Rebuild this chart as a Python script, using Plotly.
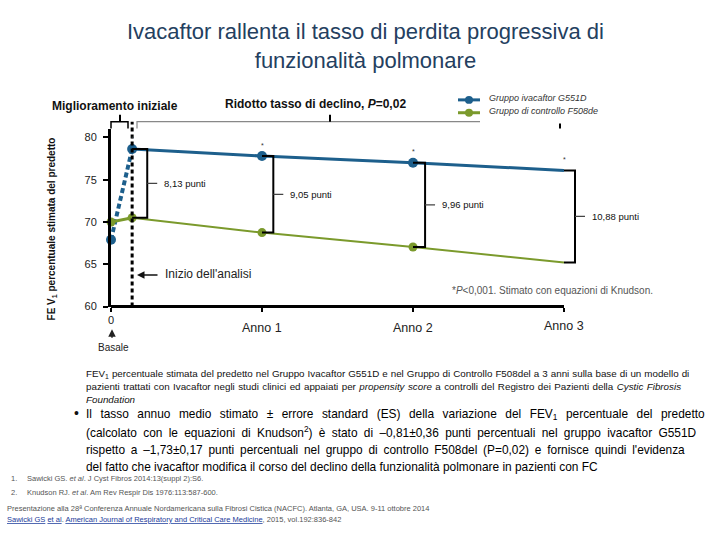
import plotly.graph_objects as go

# ---------------- data ----------------
time_points = [0, 0.14, 1, 2, 3]
ivacaftor = [67.9, 78.63, 77.8, 77.0, 76.1]
controllo = [70.0, 70.5, 68.75, 67.04, 65.22]
diff_labels = ["8,13 punti", "9,05 punti", "9,96 punti", "10,88 punti"]
x_tick_vals = [0, 1, 2, 3]
x_tick_text = ["0", "Anno 1", "Anno 2", "Anno 3"]
y_tick_vals = [60, 65, 70, 75, 80]
series_names = ["Gruppo ivacaftor G551D", "Gruppo di controllo F508de"]

BLUE = "#1d5f8c"
GREEN = "#7b9a2c"
TITLE_C = "#24405f"
W, H = 720, 540
FONT = "Liberation Sans, Arial, sans-serif"


def PX(x):
    return x / W


def PY(y):
    return 1 - y / H


X0_PX, YEAR_PX = 111, 151
X_MAX = 3.6
Y_BOT_PX, Y_TOP_PX = 310, 130
PX_PER_UNIT = 8.55

fig = go.Figure()
# initial improvement segment
fig.add_trace(go.Scatter(x=time_points[:2], y=ivacaftor[:2], mode="lines",
                         line=dict(color=BLUE, width=4, dash="5px,3px"),
                         cliponaxis=False, showlegend=False, hoverinfo="skip"))
fig.add_trace(go.Scatter(x=time_points[:2], y=controllo[:2], mode="lines",
                         line=dict(color=GREEN, width=3),
                         cliponaxis=False, showlegend=False, hoverinfo="skip"))
# decline segments
fig.add_trace(go.Scatter(x=time_points[1:], y=ivacaftor[1:], mode="lines",
                         line=dict(color=BLUE, width=3),
                         cliponaxis=False, showlegend=False))
fig.add_trace(go.Scatter(x=time_points[1:], y=controllo[1:], mode="lines",
                         line=dict(color=GREEN, width=2),
                         cliponaxis=False, showlegend=False))
# markers
fig.add_trace(go.Scatter(x=time_points[:4], y=controllo[:4], mode="markers",
                         marker=dict(color=GREEN, size=9),
                         cliponaxis=False, showlegend=False))
fig.add_trace(go.Scatter(x=time_points[:4], y=ivacaftor[:4], mode="markers",
                         marker=dict(color=BLUE, size=10),
                         cliponaxis=False, showlegend=False))

shapes = []
annotations = []

# x axis line
shapes.append(dict(type="line", xref="x", yref="paper", x0=0, x1=3,
                   y0=PY(Y_BOT_PX), y1=PY(Y_BOT_PX), line=dict(color="black", width=3)))
# dotted vertical line at start of analysis
shapes.append(dict(type="line", xref="x", yref="paper", x0=time_points[1], x1=time_points[1],
                   y0=PY(Y_BOT_PX), y1=PY(123), line=dict(color="black", width=3, dash="4px,3px")))

# brackets between the groups
offsets = [0.1, 0.075, 0.08, 0.073]
for i, idx in enumerate([1, 2, 3, 4]):
    t = time_points[idx]
    tb = t + offsets[i]
    top, bot = ivacaftor[idx], controllo[idx]
    mid = (top + bot) / 2
    shapes.append(dict(type="path", xref="x", yref="y",
                       path=f"M {t},{top} L {tb},{top} L {tb},{bot} L {t},{bot}",
                       line=dict(color="black", width=2)))
    shapes.append(dict(type="line", xref="x", yref="y", x0=tb, x1=tb + 0.066, y0=mid, y1=mid,
                       line=dict(color="#444", width=1.2)))
    annotations.append(dict(x=tb, y=mid, xref="x", yref="y", text=diff_labels[i],
                            showarrow=False, xanchor="left", yanchor="middle", xshift=15,
                            font=dict(family=FONT, size=9.5, color="#111")))
    annotations.append(dict(x=t, y=top, xref="x", yref="y", text="*", showarrow=False,
                            yshift=11, font=dict(family=FONT, size=7, color="#333")))

# top brackets
shapes += [
    dict(type="path", xref="paper", yref="paper",
         path=f"M {PX(111)},{PY(130)} L {PX(111)},{PY(123)} L {PX(128)},{PY(123)} L {PX(128)},{PY(130)}",
         line=dict(color="black", width=1.5)),
    dict(type="line", xref="paper", yref="paper", x0=PX(120), x1=PX(120), y0=PY(123), y1=PY(116),
         line=dict(color="black", width=2)),
    dict(type="path", xref="paper", yref="paper",
         path=f"M {PX(137)},{PY(130)} L {PX(137)},{PY(123)} L {PX(480)},{PY(123)}",
         line=dict(color="#888", width=1.2)),
    dict(type="line", xref="paper", yref="paper", x0=PX(330), x1=PX(330), y0=PY(123), y1=PY(116),
         line=dict(color="black", width=2)),
    dict(type="line", xref="paper", yref="paper", x0=PX(560), x1=PX(560), y0=PY(125), y1=PY(130),
         line=dict(color="black", width=2)),
]

# legend (manual)
for i, (col, yy) in enumerate([(BLUE, 101), (GREEN, 114)]):
    shapes.append(dict(type="line", xref="paper", yref="paper", x0=PX(458), x1=PX(480),
                       y0=PY(yy), y1=PY(yy), line=dict(color=col, width=3)))
    shapes.append(dict(type="circle", xref="paper", yref="paper", x0=PX(465), x1=PX(473),
                       y0=PY(yy + 4), y1=PY(yy - 4), fillcolor=col, line=dict(color=col, width=0)))
    annotations.append(dict(x=PX(487), y=PY(yy - 2), xref="paper", yref="paper",
                            text=f"<i>{series_names[i]}</i>", showarrow=False,
                            xanchor="left", yanchor="middle",
                            font=dict(family=FONT, size=9, color="#333")))

# x tick labels
label_y = {0: 324, 1: 332, 2: 332, 3: 329.5}
for v, txt in zip(x_tick_vals, x_tick_text):
    annotations.append(dict(x=v, y=PY(label_y[v]), xref="x", yref="paper",
                            text=txt, showarrow=False, xanchor="center", yanchor="middle",
                            font=dict(family=FONT, size=11 if v == 0 else 12.5, color="#222")))

# basale arrow + label
annotations.append(dict(x=PX(112), y=PY(333), xref="paper", yref="paper", ax=0, ay=10, text="",
                        showarrow=True, arrowhead=2, arrowsize=1, arrowwidth=1.5, arrowcolor="#222"))
annotations.append(dict(x=PX(113), y=PY(351), xref="paper", yref="paper", text="Basale",
                        showarrow=False, xanchor="center", yanchor="middle",
                        font=dict(family=FONT, size=10, color="#222")))

# inizio dell'analisi
annotations.append(dict(x=PX(137), y=PY(278), xref="paper", yref="paper", ax=22, ay=0, text="",
                        showarrow=True, arrowhead=2, arrowsize=1, arrowwidth=1.5, arrowcolor="#111"))
annotations.append(dict(x=PX(163), y=PY(277), xref="paper", yref="paper", text="Inizio dell'analisi",
                        showarrow=False, xanchor="left", yanchor="middle",
                        font=dict(family=FONT, size=12, color="#222")))

# footnote
annotations.append(dict(x=PX(450), y=PY(294), xref="paper", yref="paper",
                        text="*<i>P</i>&lt;0,001. Stimato con equazioni di Knudson.",
                        showarrow=False, xanchor="left", yanchor="middle",
                        font=dict(family=FONT, size=10, color="#555")))

# headers
annotations.append(dict(x=PX(115), y=PY(107), xref="paper", yref="paper", text="<b>Miglioramento iniziale</b>",
                        showarrow=False, xanchor="center", yanchor="middle",
                        font=dict(family=FONT, size=12, color="#111")))
annotations.append(dict(x=PX(223), y=PY(105), xref="paper", yref="paper",
                        text="<b>Ridotto tasso di declino, <i>P</i>=0,02</b>",
                        showarrow=False, xanchor="left", yanchor="middle",
                        font=dict(family=FONT, size=12, color="#111")))

# y-axis title
annotations.append(dict(x=PX(52), y=PY(231), xref="paper", yref="paper",
                        text="<b>FE V<sub>1</sub> percentuale stimata del predetto</b>",
                        textangle=-90, showarrow=False, xanchor="center", yanchor="middle",
                        font=dict(family=FONT, size=10, color="#111")))

# title
annotations.append(dict(x=PX(365), y=PY(47), xref="paper", yref="paper",
                        text="Ivacaftor rallenta il tasso di perdita progressiva di<br>funzionalità polmonare",
                        showarrow=False, xanchor="center", yanchor="middle",
                        font=dict(family=FONT, size=22, color=TITLE_C)))

# caption
caption = [
    ("FEV<sub>1</sub> percentuale stimata del predetto nel Gruppo Ivacaftor G551D e nel Gruppo di Controllo F508del a 3 anni sulla base di un modello di", 0.3),
    ("pazienti trattati con Ivacaftor negli studi clinici ed appaiati per <i>propensity score</i> a controlli del Registro dei Pazienti della <i>Cystic Fibrosis</i>", 0.7),
    ("<i>Foundation</i>", 0),
]
for i, (line, ws) in enumerate(caption):
    annotations.append(dict(x=PX(84), y=PY(378 + 13 * i), xref="paper", yref="paper",
                            text=f'<span style="word-spacing:{ws}px">{line}</span>',
                            showarrow=False, xanchor="left", yanchor="middle",
                            font=dict(family=FONT, size=9.8, color="#111")))

bullet = [
    ("Il tasso annuo medio stimato ± errore standard (ES) della variazione del FEV<sub>1</sub> percentuale del predetto", 5.2),
    ("(calcolato con le equazioni di Knudson<sup>2</sup>) è stato di –0,81±0,36 punti percentuali nel gruppo ivacaftor G551D", 3.0),
    ("rispetto a –1,73±0,17 punti percentuali nel gruppo di controllo F508del (P=0,02) e fornisce quindi l'evidenza", 2.5),
    ("del fatto che ivacaftor modifica il corso del declino della funzionalità polmonare in pazienti con FC", 0),
]
ys = [419, 437, 455, 472]
for (line, ws), yy in zip(bullet, ys):
    annotations.append(dict(x=PX(84), y=PY(yy), xref="paper", yref="paper",
                            text=f'<span style="word-spacing:{ws}px">{line}</span>',
                            showarrow=False, xanchor="left", yanchor="middle",
                            font=dict(family=FONT, size=11.9, color="#000")))
annotations.append(dict(x=PX(72), y=PY(418), xref="paper", yref="paper", text="•",
                        showarrow=False, xanchor="left", yanchor="middle",
                        font=dict(family=FONT, size=14, color="#111")))

# references
refs = [
    ("1.", "Sawicki GS. <i>et al</i>. J Cyst Fibros 2014:13(suppl 2):S6.", 484),
    ("2.", "Knudson RJ. <i>et al</i>. Am Rev Respir Dis 1976:113:587-600.", 498),
]
for num, txt, yy in refs:
    annotations.append(dict(x=PX(9), y=PY(yy), xref="paper", yref="paper", text=num,
                            showarrow=False, xanchor="left", yanchor="middle",
                            font=dict(family=FONT, size=7.5, color="#555")))
    annotations.append(dict(x=PX(25), y=PY(yy), xref="paper", yref="paper", text=txt,
                            showarrow=False, xanchor="left", yanchor="middle",
                            font=dict(family=FONT, size=7.5, color="#555")))
annotations.append(dict(x=PX(5), y=PY(514), xref="paper", yref="paper",
                        text="Presentazione alla 28ª Conferenza Annuale Nordamericana sulla Fibrosi Cistica (NACFC). Atlanta, GA, USA. 9-11 ottobre 2014",
                        showarrow=False, xanchor="left", yanchor="middle",
                        font=dict(family=FONT, size=7.5, color="#555")))
U = '<span style="text-decoration:underline;color:#1a3a9a">'
annotations.append(dict(x=PX(5), y=PY(525), xref="paper", yref="paper",
                        text=f"{U}Sawicki GS</span> {U}et al</span>. {U}American Journal of Respiratory and Critical Care Medicine</span>, 2015, vol.192:836-842",
                        showarrow=False, xanchor="left", yanchor="middle",
                        font=dict(family=FONT, size=7.5, color="#555")))

fig.update_layout(
    width=W, height=H,
    margin=dict(l=0, r=0, t=0, b=0),
    paper_bgcolor="white", plot_bgcolor="white",
    showlegend=False,
    xaxis=dict(domain=[PX(X0_PX), PX(X0_PX + X_MAX * YEAR_PX)], range=[0, X_MAX],
               showline=False, showgrid=False, zeroline=False,
               tickvals=x_tick_vals, showticklabels=False,
               ticks="outside", ticklen=4, tickwidth=2, tickcolor="black"),
    yaxis=dict(domain=[PY(Y_BOT_PX), PY(Y_TOP_PX)],
               range=[60, 60 + (Y_BOT_PX - Y_TOP_PX) / PX_PER_UNIT],
               showline=True, linecolor="black", linewidth=3, showgrid=False, zeroline=False,
               tickvals=y_tick_vals, ticks="outside", ticklen=5, tickwidth=2, tickcolor="black",
               ticklabelstandoff=4,
               tickfont=dict(family=FONT, size=11, color="#222")),
    shapes=shapes,
    annotations=annotations,
)

fig.write_html("out.html", config={"displayModeBar": False},
               post_script="document.body.style.margin='0';")
